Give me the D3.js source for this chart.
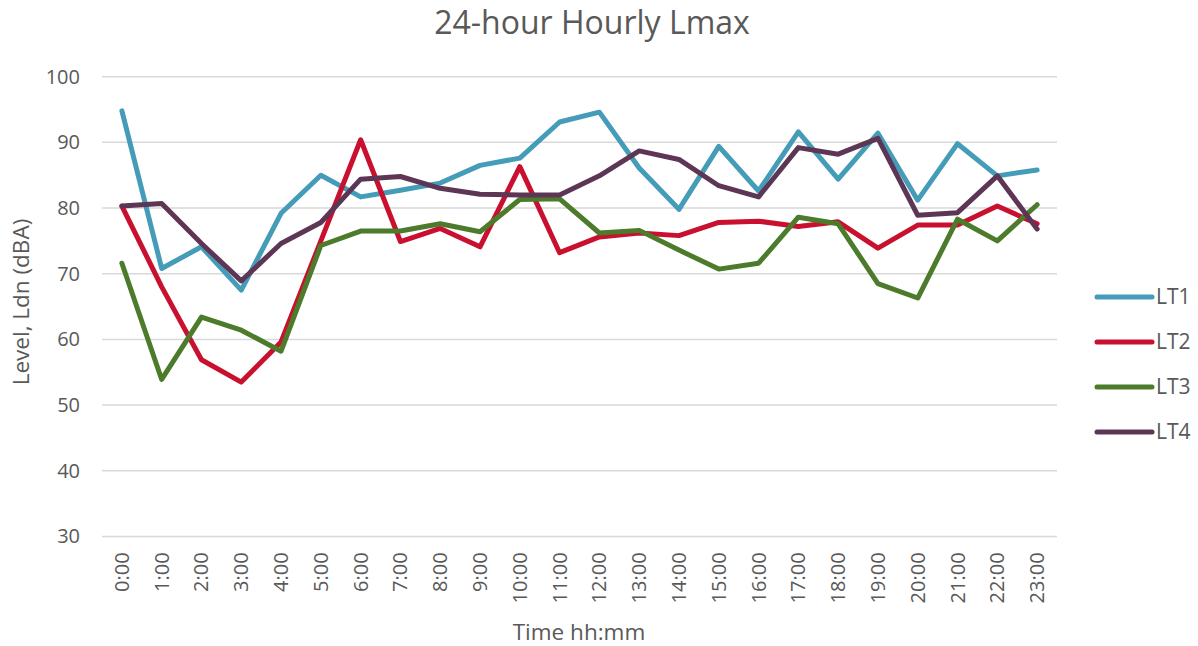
<!DOCTYPE html>
<html>
<head>
<meta charset="utf-8">
<script src="https://cdn.jsdelivr.net/npm/d3@7"></script>
<style>
  body { margin: 0; background: #fff; }
  text { font-family: "Open Sans", sans-serif; fill: #595959; }
</style>
</head>
<body>
<div id="chart"></div>
<script>
// Hours on the x axis
const hours = ["0:00","1:00","2:00","3:00","4:00","5:00","6:00","7:00","8:00","9:00","10:00","11:00",
    "12:00","13:00","14:00","15:00","16:00","17:00","18:00","19:00","20:00","21:00","22:00","23:00"];

// Lmax per site (dBA)
const lt1 = [94.8,70.8,74.1,67.5,79.2,85.0,81.7,82.7,83.8,86.5,87.6,93.1,94.6,86.1,79.8,89.4,82.6,91.6,84.4,91.4,81.2,89.8,84.9,85.8];
const lt2 = [80.3,68.0,56.9,53.5,59.6,75.0,90.4,74.9,76.9,74.1,86.3,73.2,75.6,76.2,75.8,77.8,78.0,77.2,77.9,73.9,77.4,77.4,80.3,77.6];
const lt3 = [71.6,53.9,63.4,61.4,58.2,74.3,76.5,76.5,77.6,76.4,81.3,81.4,76.2,76.6,73.6,70.7,71.6,78.6,77.6,68.5,66.3,78.3,75.0,80.5];
const lt4 = [80.3,80.7,74.6,68.9,74.6,77.8,84.4,84.8,83.0,82.1,82.0,82.0,84.9,88.7,87.4,83.4,81.7,89.2,88.2,90.6,78.9,79.3,84.9,76.8];

const seriesNames = ["LT1","LT2","LT3","LT4"];
const seriesColors = ["#449cb9","#c9102f","#4b7b2b","#5d3656"];
const yTicks = [30,40,50,60,70,80,90,100];

const series = [lt1, lt2, lt3, lt4].map((values, i) => ({
    name: seriesNames[i],
    color: seriesColors[i],
    values: values
}));

const width = 1198, height = 646;
const plot = {left: 102, right: 1057, top: 76.7, bottom: 536.4};

const svg = d3.select("#chart")
    .append("svg")
    .attr("width", width)
    .attr("height", height);

const x = d3.scaleBand()
    .domain(hours)
    .range([plot.left, plot.right]);

const y = d3.scaleLinear()
    .domain([30, 100])
    .range([plot.bottom, plot.top]);

// Gridlines
svg.append("g")
    .selectAll("line")
    .data(yTicks)
    .enter()
    .append("line")
    .attr("x1", plot.left)
    .attr("x2", plot.right)
    .attr("y1", d => y(d))
    .attr("y2", d => y(d))
    .style("stroke", "#d9d9d9")
    .style("stroke-width", 1.5);

// Y axis labels
const yAxis = svg.append("g")
    .attr("transform", `translate(${plot.left - 22},0)`)
    .call(d3.axisLeft(y).tickValues(yTicks).tickSize(0).tickPadding(0));
yAxis.select(".domain").remove();
yAxis.selectAll("text")
    .style("font-family", "'Open Sans', sans-serif")
    .style("font-size", "20px")
    .attr("fill", "#595959");

// X axis labels, rotated
const xAxis = svg.append("g")
    .attr("transform", `translate(0,${plot.bottom})`)
    .call(d3.axisBottom(x).tickSize(0).tickPadding(0));
xAxis.select(".domain").remove();
xAxis.selectAll("text")
    .style("font-family", "'Open Sans', sans-serif")
    .style("font-size", "20px")
    .attr("fill", "#595959")
    .attr("transform", "rotate(-90)")
    .attr("text-anchor", "end")
    .attr("x", -16)
    .attr("y", 0)
    .attr("dy", "0.35em");

// Lines
const line = d3.line()
    .x((d, i) => x(hours[i]) + x.bandwidth() / 2)
    .y(d => y(d));

svg.append("g")
    .selectAll("path")
    .data(series)
    .enter()
    .append("path")
    .attr("d", d => line(d.values))
    .attr("fill", "none")
    .style("stroke", d => d.color)
    .style("stroke-width", 5)
    .style("stroke-linejoin", "round")
    .style("stroke-linecap", "round");

// Title
svg.append("text")
    .attr("x", 592)
    .attr("y", 34)
    .attr("text-anchor", "middle")
    .style("font-size", "32px")
    .text("24-hour Hourly Lmax");

// Axis titles
svg.append("text")
    .attr("x", 579)
    .attr("y", 640)
    .attr("text-anchor", "middle")
    .style("font-size", "22.5px")
    .text("Time hh:mm");

svg.append("text")
    .attr("transform", "translate(29,302) rotate(-90)")
    .attr("text-anchor", "middle")
    .style("font-size", "22.5px")
    .text("Level, Ldn (dBA)");

// Legend
const legend = svg.append("g")
    .attr("transform", "translate(1097,297)");

const legendItem = legend.selectAll("g")
    .data(series)
    .enter()
    .append("g")
    .attr("transform", (d, i) => `translate(0,${i * 45})`);

legendItem.append("line")
    .attr("x1", 0)
    .attr("x2", 55)
    .style("stroke", d => d.color)
    .style("stroke-width", 5)
    .style("stroke-linecap", "round");

legendItem.append("text")
    .attr("x", 59)
    .attr("dy", "0.35em")
    .style("font-size", "21px")
    .text(d => d.name);
</script>
</body>
</html>
